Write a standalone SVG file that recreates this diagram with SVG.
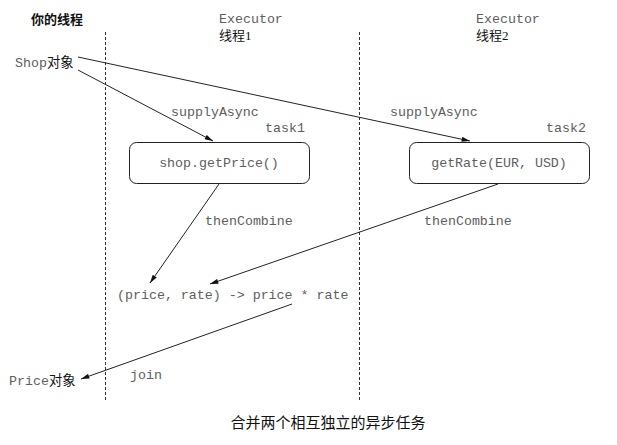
<svg xmlns="http://www.w3.org/2000/svg" width="617" height="445" viewBox="0 0 617 445">
<style>
.mono{font-family:"Liberation Mono","Noto Sans CJK SC",monospace;font-size:13.3px;fill:#5e5e5e}
.cjk{font-family:"Liberation Serif","Noto Sans CJK SC",serif;font-size:13px;fill:#111}
.lane{stroke:#333;stroke-width:1;stroke-dasharray:3,2;fill:none}
.box{fill:#fff;stroke:#222;stroke-width:1}
.edge{stroke:#222;stroke-width:1;fill:none;marker-end:url(#arr)}
</style>
<defs>
<marker id="arr" viewBox="0 0 10 6" refX="10" refY="3" markerWidth="9" markerHeight="5" markerUnits="userSpaceOnUse" orient="auto">
<path d="M0,0 L10,3 L0,6 z" fill="#111"/>
</marker>
</defs>
<rect width="617" height="445" fill="#fff"/>
<g id="lanes">
<line class="lane" x1="105.5" y1="32" x2="105.5" y2="402"/>
<line class="lane" x1="359.5" y1="32" x2="359.5" y2="402"/>
</g>
<g id="headers">
<text x="31" y="24" class="cjk" style="font-weight:bold;font-family:'Noto Sans CJK SC',sans-serif">你的线程</text>
<text x="219" y="23" class="mono">Executor</text>
<text x="219" y="40" class="cjk">线程1</text>
<text x="476" y="23" class="mono">Executor</text>
<text x="476" y="40" class="cjk">线程2</text>
</g>
<g id="shop">
<text x="15" y="67" class="mono">Shop<tspan style="fill:#111">对象</tspan></text>
</g>
<g id="task1">
<rect class="box" x="129.5" y="142.5" width="180" height="41" rx="7"/>
<text x="219" y="167" class="mono" text-anchor="middle">shop.getPrice()</text>
<text x="265" y="132" class="mono">task1</text>
</g>
<g id="task2">
<rect class="box" x="409.5" y="142.5" width="180" height="41" rx="7"/>
<text x="499" y="167" class="mono" text-anchor="middle">getRate(EUR, USD)</text>
<text x="546" y="132" class="mono">task2</text>
</g>
<g id="combine">
<text x="117" y="299" class="mono">(price, rate) -&gt; price * rate</text>
</g>
<g id="price">
<text x="9" y="385" class="mono">Price<tspan style="fill:#111">对象</tspan></text>
</g>
<g id="connectors">
<line class="edge" x1="78" y1="70" x2="213" y2="141"/>
<line class="edge" x1="78" y1="57" x2="470" y2="141"/>
<line class="edge" x1="219" y1="184" x2="150" y2="283"/>
<line class="edge" x1="498" y1="184" x2="210" y2="284"/>
<line class="edge" x1="292" y1="304" x2="81" y2="379"/>
<text x="171" y="116" class="mono">supplyAsync</text>
<text x="390" y="116" class="mono">supplyAsync</text>
<text x="205" y="225" class="mono">thenCombine</text>
<text x="424" y="225" class="mono">thenCombine</text>
<text x="130" y="379" class="mono">join</text>
</g>
<text x="328" y="428" text-anchor="middle" style="font-family:'Noto Sans CJK SC',serif;font-size:15px;fill:#111">合并两个相互独立的异步任务</text>
</svg>
